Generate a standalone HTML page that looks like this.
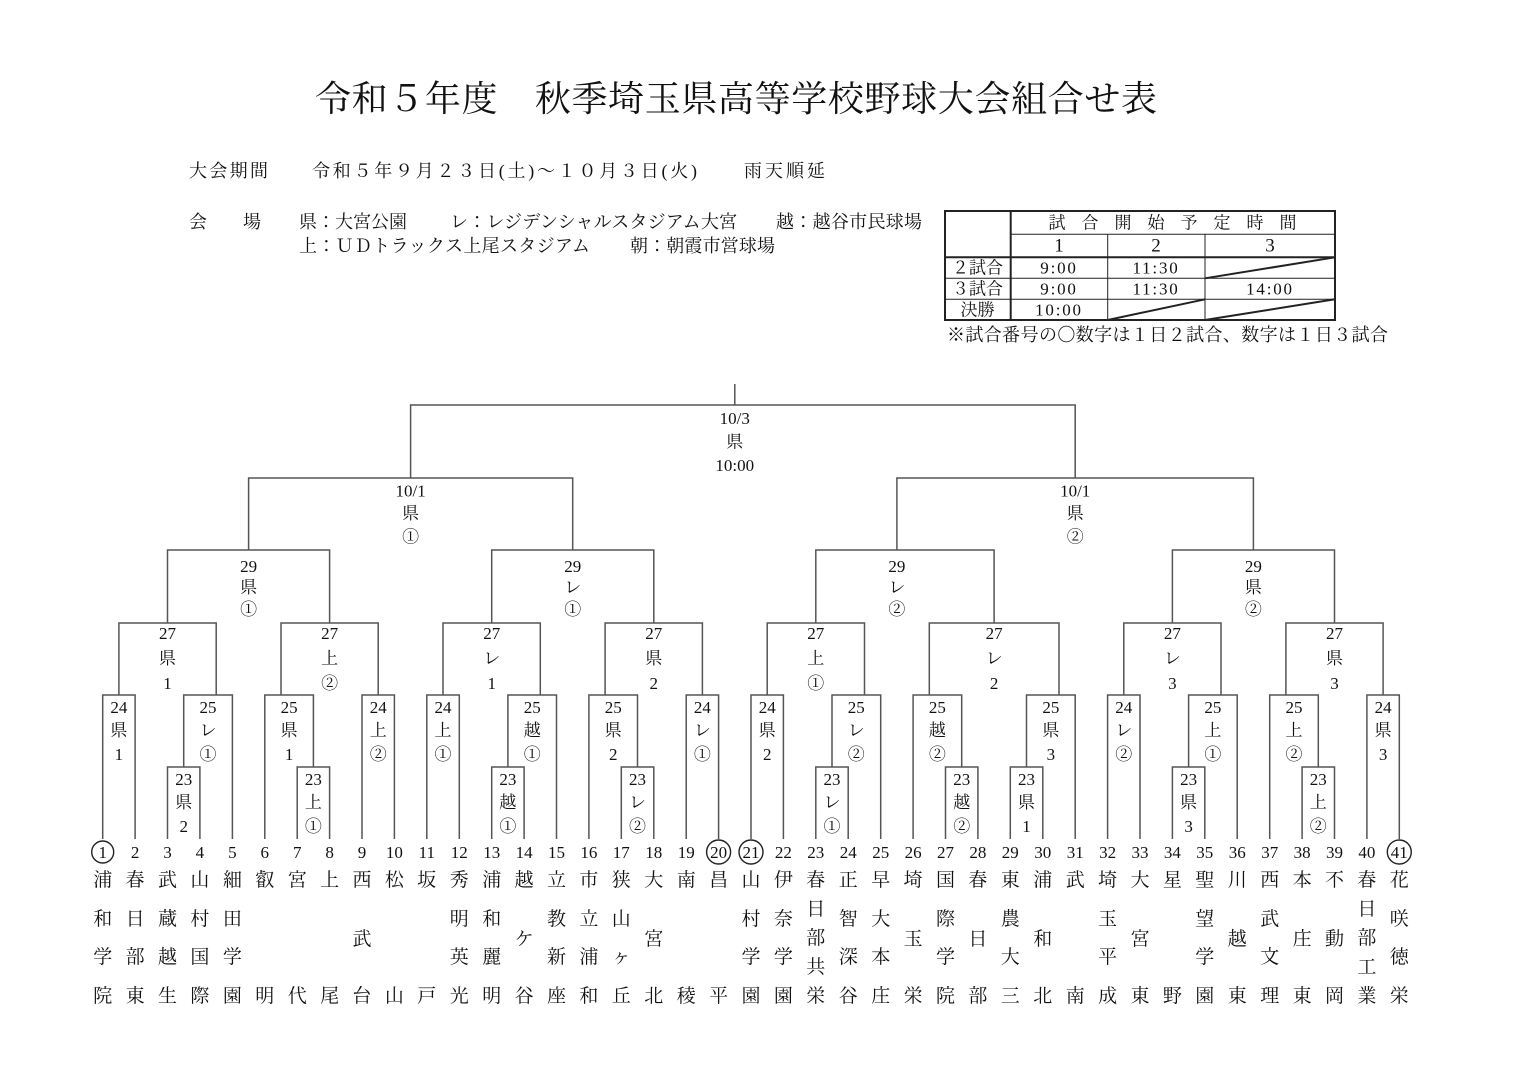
<!DOCTYPE html>
<html lang="ja"><head><meta charset="utf-8"><title>令和５年度 秋季埼玉県高等学校野球大会組合せ表</title>
<style>
html,body{margin:0;padding:0;background:#fff;}
svg{display:block;}
text{font-family:"Liberation Serif","Noto Serif CJK SC",serif;fill:#111;}
.c{text-anchor:middle;dominant-baseline:central;}
.s{text-anchor:start;dominant-baseline:central;}
.lb{font-size:17px;}
.tm{font-size:19px;}
.mono{font-family:"Liberation Serif","Noto Serif CJK SC",serif;font-size:17px;letter-spacing:1.8px;}
.cjk{font-family:"Noto Serif CJK SC",serif;}
</style></head>
<body>
<svg width="1536" height="1086" viewBox="0 0 1536 1086" xmlns="http://www.w3.org/2000/svg">
<rect width="1536" height="1086" fill="#fff"/>

<!-- Header -->
<text class="s" x="315" y="99" font-size="36" textLength="842" lengthAdjust="spacing">令和５年度　秋季埼玉県高等学校野球大会組合せ表</text>
<text class="s" x="189" y="171" font-size="18" textLength="79" lengthAdjust="spacing">大会期間</text>
<text class="s" x="312" y="171" font-size="18" textLength="385" lengthAdjust="spacing">令和５年９月２３日(土)～１０月３日(火)</text>
<text class="s" x="744" y="171" font-size="18" textLength="81" lengthAdjust="spacing">雨天順延</text>
<text class="s" x="189" y="222" font-size="18">会</text>
<text class="s" x="243" y="222" font-size="18">場</text>
<text class="s" x="299" y="222" font-size="18" textLength="108" lengthAdjust="spacing">県：大宮公園</text>
<text class="s" x="450" y="222" font-size="18" textLength="287" lengthAdjust="spacing">レ：レジデンシャルスタジアム大宮</text>
<text class="s" x="776" y="222" font-size="18" textLength="146" lengthAdjust="spacing">越：越谷市民球場</text>
<text class="s" x="299" y="246" font-size="18" textLength="291" lengthAdjust="spacing">上：ＵＤトラックス上尾スタジアム</text>
<text class="s" x="630" y="246" font-size="18" textLength="145" lengthAdjust="spacing">朝：朝霞市営球場</text>

<!-- Table -->
<g stroke="#222" fill="none">
<rect x="945" y="211" width="390" height="109" stroke-width="2"/>
<line x1="1010.7" y1="211" x2="1010.7" y2="320" stroke-width="2"/>
<line x1="1010.7" y1="234.3" x2="1335" y2="234.3" stroke-width="1"/>
<line x1="945" y1="257.3" x2="1335" y2="257.3" stroke-width="2"/>
<line x1="945" y1="278.3" x2="1335" y2="278.3" stroke-width="1"/>
<line x1="945" y1="299.3" x2="1335" y2="299.3" stroke-width="1"/>
<line x1="1107.7" y1="234.3" x2="1107.7" y2="320" stroke-width="1"/>
<line x1="1205" y1="234.3" x2="1205" y2="320" stroke-width="1"/>
<line x1="1205" y1="278.3" x2="1335" y2="257.3" stroke-width="2"/>
<line x1="1107.7" y1="320" x2="1205" y2="299.3" stroke-width="2"/>
<line x1="1205" y1="320" x2="1335" y2="299.3" stroke-width="2"/>
</g>
<g class="c" font-size="17">
<text class="c" x="1057" y="223">試</text><text class="c" x="1090" y="223">合</text><text class="c" x="1123" y="223">開</text><text class="c" x="1156" y="223">始</text><text class="c" x="1189" y="223">予</text><text class="c" x="1222" y="223">定</text><text class="c" x="1255" y="223">時</text><text class="c" x="1288" y="223">間</text>
<text class="c" x="977.5" y="268">２試合</text>
<text class="c" x="977.5" y="289">３試合</text>
<text class="c" x="977.5" y="310">決勝</text>
</g>
<text class="c" x="1059" y="246" font-size="19">1</text>
<text class="c" x="1156" y="246" font-size="19">2</text>
<text class="c" x="1270" y="246" font-size="19">3</text>
<text class="c mono" x="1059" y="268">9:00</text>
<text class="c mono" x="1156" y="268">11:30</text>
<text class="c mono" x="1059" y="289">9:00</text>
<text class="c mono" x="1156" y="289">11:30</text>
<text class="c mono" x="1270" y="289">14:00</text>
<text class="c mono" x="1059" y="310">10:00</text>
<text class="s cjk" x="947" y="334" font-size="18" textLength="441" lengthAdjust="spacing">※試合番号の〇数字は１日２試合、数字は１日３試合</text>

<!-- Bracket lines -->
<g stroke="#555" stroke-width="1.5" fill="none">
<path d="M734.8 384 V405"/>
<path d="M410.6 478 V405 H1075.2 V478"/>
<path d="M248.6 550 V478 H572.7 V550"/>
<path d="M896.9 550 V478 H1253.4 V550"/>
<path d="M167.5 623 V550 H329.6 V623"/>
<path d="M491.7 623 V550 H653.8 V623"/>
<path d="M815.8 623 V550 H994.1 V623"/>
<path d="M1172.4 623 V550 H1334.5 V623"/>
<path d="M102.7 839 V695 H135.1 V839"/>
<path d="M167.5 839 V767 H199.9 V839"/>
<path d="M183.7 767 V695 H232.4 V839"/>
<path d="M118.9 695 V623 H216.2 V695"/>
<path d="M264.8 839 V695 H313.4 V767"/>
<path d="M297.2 839 V767 H329.6 V839"/>
<path d="M362.0 839 V695 H394.4 V839"/>
<path d="M281.0 695 V623 H378.2 V695"/>
<path d="M426.8 839 V695 H459.3 V839"/>
<path d="M491.7 839 V767 H524.1 V839"/>
<path d="M507.9 767 V695 H556.5 V839"/>
<path d="M443.0 695 V623 H540.3 V695"/>
<path d="M588.9 839 V695 H637.5 V767"/>
<path d="M621.3 839 V767 H653.8 V839"/>
<path d="M686.2 839 V695 H718.6 V839"/>
<path d="M605.1 695 V623 H702.4 V695"/>
<path d="M751.0 839 V695 H783.4 V839"/>
<path d="M815.8 839 V767 H848.2 V839"/>
<path d="M832.0 767 V695 H880.7 V839"/>
<path d="M767.2 695 V623 H864.5 V695"/>
<path d="M913.1 839 V695 H961.7 V767"/>
<path d="M945.5 839 V767 H977.9 V839"/>
<path d="M1010.3 839 V767 H1042.8 V839"/>
<path d="M1026.5 767 V695 H1075.2 V839"/>
<path d="M929.3 695 V623 H1059.0 V695"/>
<path d="M1107.6 839 V695 H1140.0 V839"/>
<path d="M1172.4 839 V767 H1204.8 V839"/>
<path d="M1188.6 767 V695 H1237.2 V839"/>
<path d="M1123.8 695 V623 H1221.0 V695"/>
<path d="M1269.7 839 V695 H1318.3 V767"/>
<path d="M1302.1 839 V767 H1334.5 V839"/>
<path d="M1366.9 839 V695 H1399.3 V839"/>
<path d="M1285.9 695 V623 H1383.1 V695"/>
</g>

<!-- Bracket labels -->
<g class="lb">
<text class="c"><tspan x="734.8" y="418">10/3</tspan><tspan x="734.8" y="441.7">県</tspan><tspan x="734.8" y="465">10:00</tspan></text>
<text class="c"><tspan x="410.6" y="490.7">10/1</tspan><tspan x="410.6" y="513">県</tspan><tspan x="410.6" y="536.7">①</tspan></text>
<text class="c"><tspan x="1075.2" y="490.7">10/1</tspan><tspan x="1075.2" y="513">県</tspan><tspan x="1075.2" y="536.7">②</tspan></text>

<text class="c"><tspan x="248.6" y="566">29</tspan><tspan x="248.6" y="587">県</tspan><tspan x="248.6" y="609">①</tspan></text>
<text class="c"><tspan x="572.7" y="566">29</tspan><tspan x="572.7" y="587">レ</tspan><tspan x="572.7" y="609">①</tspan></text>
<text class="c"><tspan x="896.9" y="566">29</tspan><tspan x="896.9" y="587">レ</tspan><tspan x="896.9" y="609">②</tspan></text>
<text class="c"><tspan x="1253.4" y="566">29</tspan><tspan x="1253.4" y="587">県</tspan><tspan x="1253.4" y="609">②</tspan></text>

<text class="c"><tspan x="167.5" y="633">27</tspan><tspan x="167.5" y="658">県</tspan><tspan x="167.5" y="683">1</tspan></text>
<text class="c"><tspan x="329.6" y="633">27</tspan><tspan x="329.6" y="658">上</tspan><tspan x="329.6" y="683">②</tspan></text>
<text class="c"><tspan x="491.7" y="633">27</tspan><tspan x="491.7" y="658">レ</tspan><tspan x="491.7" y="683">1</tspan></text>
<text class="c"><tspan x="653.8" y="633">27</tspan><tspan x="653.8" y="658">県</tspan><tspan x="653.8" y="683">2</tspan></text>
<text class="c"><tspan x="815.8" y="633">27</tspan><tspan x="815.8" y="658">上</tspan><tspan x="815.8" y="683">①</tspan></text>
<text class="c"><tspan x="994.1" y="633">27</tspan><tspan x="994.1" y="658">レ</tspan><tspan x="994.1" y="683">2</tspan></text>
<text class="c"><tspan x="1172.4" y="633">27</tspan><tspan x="1172.4" y="658">レ</tspan><tspan x="1172.4" y="683">3</tspan></text>
<text class="c"><tspan x="1334.5" y="633">27</tspan><tspan x="1334.5" y="658">県</tspan><tspan x="1334.5" y="683">3</tspan></text>

<text class="c"><tspan x="118.9" y="707">24</tspan><tspan x="118.9" y="730">県</tspan><tspan x="118.9" y="754">1</tspan></text>
<text class="c"><tspan x="208.0" y="707">25</tspan><tspan x="208.0" y="730">レ</tspan><tspan x="208.0" y="754">①</tspan></text>
<text class="c"><tspan x="289.1" y="707">25</tspan><tspan x="289.1" y="730">県</tspan><tspan x="289.1" y="754">1</tspan></text>
<text class="c"><tspan x="378.2" y="707">24</tspan><tspan x="378.2" y="730">上</tspan><tspan x="378.2" y="754">②</tspan></text>
<text class="c"><tspan x="443.0" y="707">24</tspan><tspan x="443.0" y="730">上</tspan><tspan x="443.0" y="754">①</tspan></text>
<text class="c"><tspan x="532.2" y="707">25</tspan><tspan x="532.2" y="730">越</tspan><tspan x="532.2" y="754">①</tspan></text>
<text class="c"><tspan x="613.2" y="707">25</tspan><tspan x="613.2" y="730">県</tspan><tspan x="613.2" y="754">2</tspan></text>
<text class="c"><tspan x="702.4" y="707">24</tspan><tspan x="702.4" y="730">レ</tspan><tspan x="702.4" y="754">①</tspan></text>
<text class="c"><tspan x="767.2" y="707">24</tspan><tspan x="767.2" y="730">県</tspan><tspan x="767.2" y="754">2</tspan></text>
<text class="c"><tspan x="856.3" y="707">25</tspan><tspan x="856.3" y="730">レ</tspan><tspan x="856.3" y="754">②</tspan></text>
<text class="c"><tspan x="937.4" y="707">25</tspan><tspan x="937.4" y="730">越</tspan><tspan x="937.4" y="754">②</tspan></text>
<text class="c"><tspan x="1050.9" y="707">25</tspan><tspan x="1050.9" y="730">県</tspan><tspan x="1050.9" y="754">3</tspan></text>
<text class="c"><tspan x="1123.8" y="707">24</tspan><tspan x="1123.8" y="730">レ</tspan><tspan x="1123.8" y="754">②</tspan></text>
<text class="c"><tspan x="1212.9" y="707">25</tspan><tspan x="1212.9" y="730">上</tspan><tspan x="1212.9" y="754">①</tspan></text>
<text class="c"><tspan x="1294.0" y="707">25</tspan><tspan x="1294.0" y="730">上</tspan><tspan x="1294.0" y="754">②</tspan></text>
<text class="c"><tspan x="1383.1" y="707">24</tspan><tspan x="1383.1" y="730">県</tspan><tspan x="1383.1" y="754">3</tspan></text>

<text class="c"><tspan x="183.7" y="779">23</tspan><tspan x="183.7" y="802">県</tspan><tspan x="183.7" y="826">2</tspan></text>
<text class="c"><tspan x="313.4" y="779">23</tspan><tspan x="313.4" y="802">上</tspan><tspan x="313.4" y="826">①</tspan></text>
<text class="c"><tspan x="507.9" y="779">23</tspan><tspan x="507.9" y="802">越</tspan><tspan x="507.9" y="826">①</tspan></text>
<text class="c"><tspan x="637.5" y="779">23</tspan><tspan x="637.5" y="802">レ</tspan><tspan x="637.5" y="826">②</tspan></text>
<text class="c"><tspan x="832.0" y="779">23</tspan><tspan x="832.0" y="802">レ</tspan><tspan x="832.0" y="826">①</tspan></text>
<text class="c"><tspan x="961.7" y="779">23</tspan><tspan x="961.7" y="802">越</tspan><tspan x="961.7" y="826">②</tspan></text>
<text class="c"><tspan x="1026.5" y="779">23</tspan><tspan x="1026.5" y="802">県</tspan><tspan x="1026.5" y="826">1</tspan></text>
<text class="c"><tspan x="1188.6" y="779">23</tspan><tspan x="1188.6" y="802">県</tspan><tspan x="1188.6" y="826">3</tspan></text>
<text class="c"><tspan x="1318.3" y="779">23</tspan><tspan x="1318.3" y="802">上</tspan><tspan x="1318.3" y="826">②</tspan></text>
</g>

<!-- Team numbers -->
<g stroke="#222" stroke-width="1.4" fill="none">
<circle cx="102.7" cy="852" r="11"/>
<circle cx="718.6" cy="852" r="12"/>
<circle cx="751.0" cy="852" r="12"/>
<circle cx="1399.3" cy="852" r="12"/>
</g>
<g class="lb">
<text class="c" y="852"><tspan x="102.7">1</tspan><tspan x="135.1">2</tspan><tspan x="167.5">3</tspan><tspan x="199.9">4</tspan><tspan x="232.4">5</tspan><tspan x="264.8">6</tspan><tspan x="297.2">7</tspan><tspan x="329.6">8</tspan><tspan x="362.0">9</tspan><tspan x="394.4">10</tspan><tspan x="426.8">11</tspan><tspan x="459.3">12</tspan><tspan x="491.7">13</tspan><tspan x="524.1">14</tspan><tspan x="556.5">15</tspan><tspan x="588.9">16</tspan><tspan x="621.3">17</tspan><tspan x="653.8">18</tspan><tspan x="686.2">19</tspan><tspan x="718.6">20</tspan><tspan x="751.0">21</tspan><tspan x="783.4">22</tspan><tspan x="815.8">23</tspan><tspan x="848.2">24</tspan><tspan x="880.7">25</tspan><tspan x="913.1">26</tspan><tspan x="945.5">27</tspan><tspan x="977.9">28</tspan><tspan x="1010.3">29</tspan><tspan x="1042.8">30</tspan><tspan x="1075.2">31</tspan><tspan x="1107.6">32</tspan><tspan x="1140.0">33</tspan><tspan x="1172.4">34</tspan><tspan x="1204.8">35</tspan><tspan x="1237.2">36</tspan><tspan x="1269.7">37</tspan><tspan x="1302.1">38</tspan><tspan x="1334.5">39</tspan><tspan x="1366.9">40</tspan><tspan x="1399.3">41</tspan></text>
</g>

<!-- Team names -->
<g class="tm">
<text class="c"><tspan x="102.7" y="880">浦</tspan><tspan x="102.7" y="919">和</tspan><tspan x="102.7" y="957">学</tspan><tspan x="102.7" y="996">院</tspan></text>
<text class="c"><tspan x="135.1" y="880">春</tspan><tspan x="135.1" y="919">日</tspan><tspan x="135.1" y="957">部</tspan><tspan x="135.1" y="996">東</tspan></text>
<text class="c"><tspan x="167.5" y="880">武</tspan><tspan x="167.5" y="919">蔵</tspan><tspan x="167.5" y="957">越</tspan><tspan x="167.5" y="996">生</tspan></text>
<text class="c"><tspan x="199.9" y="880">山</tspan><tspan x="199.9" y="919">村</tspan><tspan x="199.9" y="957">国</tspan><tspan x="199.9" y="996">際</tspan></text>
<text class="c"><tspan x="232.4" y="880">細</tspan><tspan x="232.4" y="919">田</tspan><tspan x="232.4" y="957">学</tspan><tspan x="232.4" y="996">園</tspan></text>
<text class="c"><tspan x="264.8" y="880">叡</tspan><tspan x="264.8" y="996">明</tspan></text>
<text class="c"><tspan x="297.2" y="880">宮</tspan><tspan x="297.2" y="996">代</tspan></text>
<text class="c"><tspan x="329.6" y="880">上</tspan><tspan x="329.6" y="996">尾</tspan></text>
<text class="c"><tspan x="362.0" y="880">西</tspan><tspan x="362.0" y="939">武</tspan><tspan x="362.0" y="996">台</tspan></text>
<text class="c"><tspan x="394.4" y="880">松</tspan><tspan x="394.4" y="996">山</tspan></text>
<text class="c"><tspan x="426.8" y="880">坂</tspan><tspan x="426.8" y="996">戸</tspan></text>
<text class="c"><tspan x="459.3" y="880">秀</tspan><tspan x="459.3" y="919">明</tspan><tspan x="459.3" y="957">英</tspan><tspan x="459.3" y="996">光</tspan></text>
<text class="c"><tspan x="491.7" y="880">浦</tspan><tspan x="491.7" y="919">和</tspan><tspan x="491.7" y="957">麗</tspan><tspan x="491.7" y="996">明</tspan></text>
<text class="c"><tspan x="524.1" y="880">越</tspan><tspan x="524.1" y="939">ケ</tspan><tspan x="524.1" y="996">谷</tspan></text>
<text class="c"><tspan x="556.5" y="880">立</tspan><tspan x="556.5" y="919">教</tspan><tspan x="556.5" y="957">新</tspan><tspan x="556.5" y="996">座</tspan></text>
<text class="c"><tspan x="588.9" y="880">市</tspan><tspan x="588.9" y="919">立</tspan><tspan x="588.9" y="957">浦</tspan><tspan x="588.9" y="996">和</tspan></text>
<text class="c"><tspan x="621.3" y="880">狭</tspan><tspan x="621.3" y="919">山</tspan><tspan x="621.3" y="957">ヶ</tspan><tspan x="621.3" y="996">丘</tspan></text>
<text class="c"><tspan x="653.8" y="880">大</tspan><tspan x="653.8" y="939">宮</tspan><tspan x="653.8" y="996">北</tspan></text>
<text class="c"><tspan x="686.2" y="880">南</tspan><tspan x="686.2" y="996">稜</tspan></text>
<text class="c"><tspan x="718.6" y="880">昌</tspan><tspan x="718.6" y="996">平</tspan></text>
<text class="c"><tspan x="751.0" y="880">山</tspan><tspan x="751.0" y="919">村</tspan><tspan x="751.0" y="957">学</tspan><tspan x="751.0" y="996">園</tspan></text>
<text class="c"><tspan x="783.4" y="880">伊</tspan><tspan x="783.4" y="919">奈</tspan><tspan x="783.4" y="957">学</tspan><tspan x="783.4" y="996">園</tspan></text>
<text class="c"><tspan x="815.8" y="880">春</tspan><tspan x="815.8" y="909">日</tspan><tspan x="815.8" y="938">部</tspan><tspan x="815.8" y="967">共</tspan><tspan x="815.8" y="996">栄</tspan></text>
<text class="c"><tspan x="848.2" y="880">正</tspan><tspan x="848.2" y="919">智</tspan><tspan x="848.2" y="957">深</tspan><tspan x="848.2" y="996">谷</tspan></text>
<text class="c"><tspan x="880.7" y="880">早</tspan><tspan x="880.7" y="919">大</tspan><tspan x="880.7" y="957">本</tspan><tspan x="880.7" y="996">庄</tspan></text>
<text class="c"><tspan x="913.1" y="880">埼</tspan><tspan x="913.1" y="939">玉</tspan><tspan x="913.1" y="996">栄</tspan></text>
<text class="c"><tspan x="945.5" y="880">国</tspan><tspan x="945.5" y="919">際</tspan><tspan x="945.5" y="957">学</tspan><tspan x="945.5" y="996">院</tspan></text>
<text class="c"><tspan x="977.9" y="880">春</tspan><tspan x="977.9" y="939">日</tspan><tspan x="977.9" y="996">部</tspan></text>
<text class="c"><tspan x="1010.3" y="880">東</tspan><tspan x="1010.3" y="919">農</tspan><tspan x="1010.3" y="957">大</tspan><tspan x="1010.3" y="996">三</tspan></text>
<text class="c"><tspan x="1042.8" y="880">浦</tspan><tspan x="1042.8" y="939">和</tspan><tspan x="1042.8" y="996">北</tspan></text>
<text class="c"><tspan x="1075.2" y="880">武</tspan><tspan x="1075.2" y="996">南</tspan></text>
<text class="c"><tspan x="1107.6" y="880">埼</tspan><tspan x="1107.6" y="919">玉</tspan><tspan x="1107.6" y="957">平</tspan><tspan x="1107.6" y="996">成</tspan></text>
<text class="c"><tspan x="1140.0" y="880">大</tspan><tspan x="1140.0" y="939">宮</tspan><tspan x="1140.0" y="996">東</tspan></text>
<text class="c"><tspan x="1172.4" y="880">星</tspan><tspan x="1172.4" y="996">野</tspan></text>
<text class="c"><tspan x="1204.8" y="880">聖</tspan><tspan x="1204.8" y="919">望</tspan><tspan x="1204.8" y="957">学</tspan><tspan x="1204.8" y="996">園</tspan></text>
<text class="c"><tspan x="1237.2" y="880">川</tspan><tspan x="1237.2" y="939">越</tspan><tspan x="1237.2" y="996">東</tspan></text>
<text class="c"><tspan x="1269.7" y="880">西</tspan><tspan x="1269.7" y="919">武</tspan><tspan x="1269.7" y="957">文</tspan><tspan x="1269.7" y="996">理</tspan></text>
<text class="c"><tspan x="1302.1" y="880">本</tspan><tspan x="1302.1" y="939">庄</tspan><tspan x="1302.1" y="996">東</tspan></text>
<text class="c"><tspan x="1334.5" y="880">不</tspan><tspan x="1334.5" y="939">動</tspan><tspan x="1334.5" y="996">岡</tspan></text>
<text class="c"><tspan x="1366.9" y="880">春</tspan><tspan x="1366.9" y="909">日</tspan><tspan x="1366.9" y="938">部</tspan><tspan x="1366.9" y="967">工</tspan><tspan x="1366.9" y="996">業</tspan></text>
<text class="c"><tspan x="1399.3" y="880">花</tspan><tspan x="1399.3" y="919">咲</tspan><tspan x="1399.3" y="957">徳</tspan><tspan x="1399.3" y="996">栄</tspan></text>
</g>
</svg>
</body></html>
